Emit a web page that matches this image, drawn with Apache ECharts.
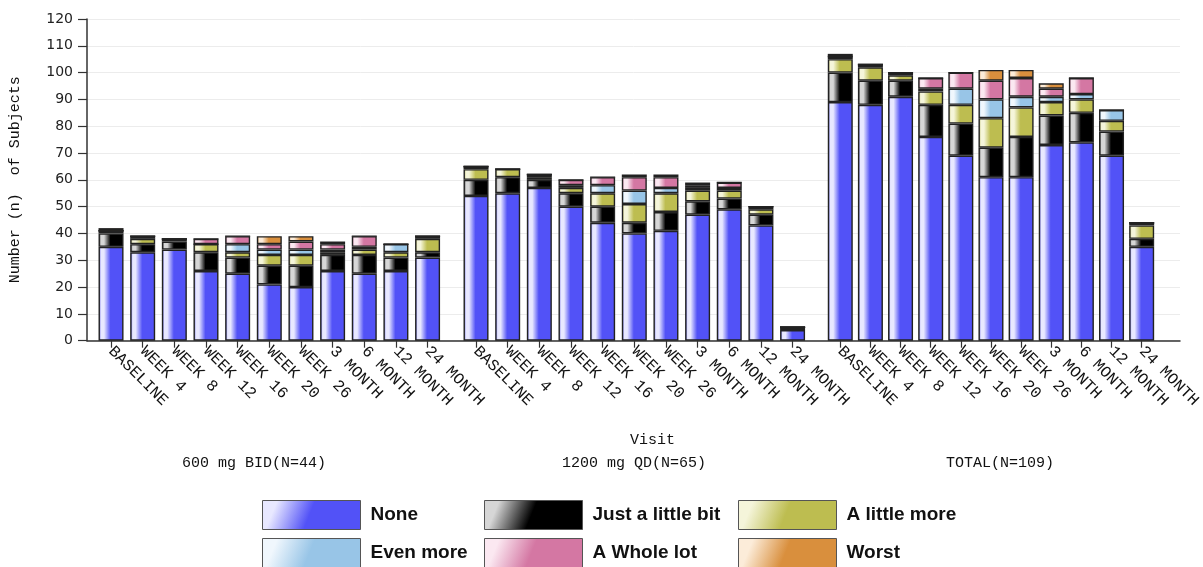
<!DOCTYPE html>
<html>
<head>
<meta charset="utf-8">
<script src="https://cdn.jsdelivr.net/npm/echarts@6/dist/echarts.min.js"></script>
<style>
  html, body { margin: 0; padding: 0; background: #ffffff; }
  #chart { width: 1203px; height: 567px; }
</style>
</head>
<body>
<div id="chart"></div>
<script>
// Visits shown under each treatment group
const visits = ['BASELINE', 'WEEK 4', 'WEEK 8', 'WEEK 12', 'WEEK 16', 'WEEK 20',
                'WEEK 26', '3 MONTH', '6 MONTH', '12 MONTH', '24 MONTH'];
const groupLabels = ['600 mg BID(N=44)', '1200 mg QD(N=65)', 'TOTAL(N=109)'];
const responses = ['None', 'Just a little bit', 'A little more', 'Even more', 'A Whole lot', 'Worst'];
const yTicks = { min: 0, max: 120, step: 10 };

// 600 mg BID: number of subjects per response
const bidNone     = [35, 33, 34, 26, 25, 21, 20, 26, 25, 26, 31];
const bidLittle   = [ 5,  3,  3,  7,  6,  7,  8,  6,  7,  5,  2];
const bidMore     = [ 1,  2,  1,  3,  2,  4,  4,  1,  2,  2,  5];
const bidEvenMore = [ 0,  1,  0,  0,  3,  2,  2,  1,  1,  3,  1];
const bidWhole    = [ 0,  0,  0,  2,  3,  2,  3,  2,  4,  0,  0];
const bidWorst    = [ 1,  0,  0,  0,  0,  3,  2,  1,  0,  0,  0];

// 1200 mg QD
const qdNone      = [54, 55, 57, 50, 44, 40, 41, 47, 49, 43,  4];
const qdLittle    = [ 6,  6,  3,  5,  6,  4,  7,  5,  4,  4,  1];
const qdMore      = [ 4,  3,  1,  2,  5,  7,  7,  4,  3,  2,  0];
const qdEvenMore  = [ 1,  0,  1,  1,  3,  5,  2,  1,  1,  1,  0];
const qdWhole     = [ 0,  0,  0,  2,  3,  5,  4,  1,  2,  0,  0];
const qdWorst     = [ 0,  0,  0,  0,  0,  1,  1,  1,  0,  0,  0];

// TOTAL
const totNone     = [89, 88, 91, 76, 69, 61, 61, 73, 74, 69, 35];
const totLittle   = [11,  9,  6, 12, 12, 11, 15, 11, 11,  9,  3];
const totMore     = [ 5,  5,  2,  5,  7, 11, 11,  5,  5,  4,  5];
const totEvenMore = [ 1,  1,  1,  1,  6,  7,  4,  2,  2,  4,  1];
const totWhole    = [ 0,  0,  0,  4,  6,  7,  7,  3,  6,  0,  0];
const totWorst    = [ 1,  0,  0,  0,  0,  4,  3,  2,  0,  0,  0];

const groups = [
  [bidNone, bidLittle, bidMore, bidEvenMore, bidWhole, bidWorst],
  [qdNone, qdLittle, qdMore, qdEvenMore, qdWhole, qdWorst],
  [totNone, totLittle, totMore, totEvenMore, totWhole, totWorst]
];

// Fill colours: edge shade, highlight and body colour of each response
const palette = {
  'None':              { edge: '#3d3dd6', light: '#e8e8ff', base: '#5252f7' },
  'Just a little bit': { edge: '#1a1a1a', light: '#d6d6d6', base: '#000000' },
  'A little more':     { edge: '#a3a33f', light: '#f5f5da', base: '#bdbd50' },
  'Even more':         { edge: '#7eaed6', light: '#f0f7fd', base: '#98c5e7' },
  'A Whole lot':       { edge: '#b95f8a', light: '#fbe8f1', base: '#d477a3' },
  'Worst':             { edge: '#bf7630', light: '#fcecd9', base: '#d98f3d' }
};

function barFill(name) {
  const p = palette[name];
  return {
    type: 'linear', x: 0, y: 0, x2: 1, y2: 0,
    colorStops: [
      { offset: 0, color: p.edge },
      { offset: 0.1, color: p.light },
      { offset: 0.22, color: p.light },
      { offset: 0.48, color: p.base },
      { offset: 1, color: p.base }
    ]
  };
}

function swatchFill(name) {
  const p = palette[name];
  return {
    type: 'linear', x: 0, y: 0, x2: 0.75, y2: 1,
    colorStops: [
      { offset: 0, color: p.light },
      { offset: 0.18, color: p.light },
      { offset: 0.62, color: p.base },
      { offset: 1, color: p.base }
    ]
  };
}

const monoFont = "'Liberation Mono', 'DejaVu Sans Mono', monospace";
const plotTop = 19;
const plotHeight = 321.7;
const bandLefts = [95.2, 460.2, 825.2];
const bandWidth = 348.2;

const grids = [{ left: 87, right: 23, top: plotTop, height: plotHeight }];
const xAxes = [{
  gridIndex: 0, type: 'value', min: 0, max: 1,
  axisLine: { show: true, lineStyle: { color: '#333', width: 1.5 } },
  axisTick: { show: false }, axisLabel: { show: false }, splitLine: { show: false }
}];
const yAxes = [{
  gridIndex: 0, type: 'value', min: yTicks.min, max: yTicks.max, interval: yTicks.step,
  name: 'Number (n)  of Subjects', nameLocation: 'middle', nameGap: 64, nameRotate: 90,
  nameTextStyle: { fontFamily: monoFont, fontSize: 15, color: '#111' },
  axisLine: { show: true, lineStyle: { color: '#333', width: 1.5 } },
  axisTick: { show: true, length: 9, lineStyle: { color: '#333', width: 1.2 } },
  axisLabel: { fontFamily: "'DejaVu Sans', sans-serif", fontSize: 14, color: '#222', margin: 14 },
  splitLine: { show: true, lineStyle: { color: '#ececec', width: 1 } }
}];

bandLefts.forEach(function (left, g) {
  const idx = g + 1;
  grids.push({ left: left, width: bandWidth, top: plotTop, height: plotHeight });
  xAxes.push({
    gridIndex: idx, type: 'category', data: visits,
    axisLine: { show: false },
    axisTick: { show: true, alignWithLabel: true, length: 7, lineStyle: { color: '#333', width: 1.2 } },
    axisLabel: {
      interval: 0, rotate: -45, margin: 8,
      fontFamily: monoFont, fontSize: 16, color: '#111'
    }
  });
  yAxes.push({ gridIndex: idx, type: 'value', min: yTicks.min, max: yTicks.max, show: false });
});

const series = [];
groups.forEach(function (values, g) {
  responses.forEach(function (name, r) {
    series.push({
      name: name, type: 'bar', stack: 'group' + g,
      xAxisIndex: g + 1, yAxisIndex: g + 1,
      barWidth: 25,
      data: values[r],
      itemStyle: { color: barFill(name), borderColor: '#222', borderWidth: 1.4 },
      emphasis: { disabled: true }
    });
  });
});

// Legend: three columns by two rows of large swatches
const legendSlots = [
  { name: 'None', left: 262, top: 500 },
  { name: 'Just a little bit', left: 484, top: 500 },
  { name: 'A little more', left: 738, top: 500 },
  { name: 'Even more', left: 262, top: 538 },
  { name: 'A Whole lot', left: 484, top: 538 },
  { name: 'Worst', left: 738, top: 538 }
];
const legends = legendSlots.map(function (slot) {
  return {
    left: slot.left, top: slot.top, padding: 0,
    itemWidth: 98, itemHeight: 29, itemGap: 0,
    textStyle: {
      fontFamily: "'Liberation Sans', Arial, sans-serif", fontWeight: 'bold',
      fontSize: 19, color: '#111', padding: [0, 0, 0, 5]
    },
    data: [{
      name: slot.name, icon: 'rect',
      itemStyle: { color: swatchFill(slot.name), borderColor: '#555', borderWidth: 1 }
    }]
  };
});

const groupLabelX = [254, 634, 1000];
const graphics = [{
  type: 'text', left: 630, top: 433,
  style: { text: 'Visit', font: "15px " + monoFont, fill: '#111', textAlign: 'center' }
}];
groupLabels.forEach(function (label, g) {
  graphics.push({
    type: 'text', x: groupLabelX[g], y: 456,
    style: { text: label, font: "15px " + monoFont, fill: '#111', textAlign: 'center' }
  });
});

const chart = echarts.init(document.getElementById('chart'), null, { renderer: 'canvas' });
chart.setOption({
  animation: false,
  backgroundColor: '#ffffff',
  grid: grids,
  xAxis: xAxes,
  yAxis: yAxes,
  legend: legends,
  series: series,
  graphic: graphics
});
</script>
</body>
</html>
